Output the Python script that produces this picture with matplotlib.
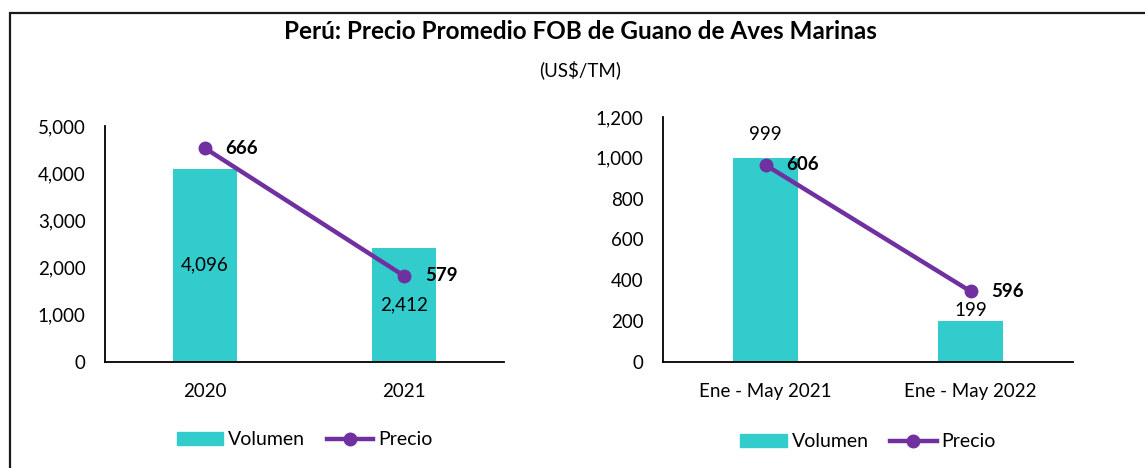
import matplotlib.pyplot as plt
from matplotlib.patches import Rectangle
from matplotlib.lines import Line2D
from matplotlib.patches import Patch

plt.rcParams['font.family'] = ['Lato', 'DejaVu Sans']

teal = '#33CCCC'
purple = '#7030A0'

# datos
cat_anual = ['2020', '2021']
vol_anual = [4096, 2412]
precio_anual = [666, 579]

cat_parcial = ['Ene - May 2021', 'Ene - May 2022']
vol_parcial = [999, 199]
precio_parcial = [606, 596]

fig = plt.figure(figsize=(11.45, 4.68), dpi=100)

fig.text(0.5065, 0.932, 'Perú: Precio Promedio FOB de Guano de Aves Marinas',
         ha='center', va='center', fontsize=17.5, fontweight='bold')
fig.text(0.5065, 0.85, '(US$/TM)', ha='center', va='center', fontsize=13.5)

# borde
fig.add_artist(Rectangle((10 / 1145, -0.1), 1.2, 1 - 12.5 / 468 + 0.1,
                         transform=fig.transFigure, fill=False,
                         edgecolor='#1a1a1a', linewidth=1.6))


def panel(rect, cats, vols, precios, ymax, step, y2lim, inside, offs=None):
    ax = fig.add_axes(rect)
    x = list(range(len(cats)))
    ax.bar(x, vols, width=0.32, color=teal, zorder=1)
    ax.set_xlim(-0.5, 1.5)
    ax.set_ylim(0, ymax)
    ax.set_yticks(range(0, ymax + 1, step))
    ax.set_yticklabels([f'{v:,}' for v in range(0, ymax + 1, step)])
    ax.set_xticks(x)
    ax.set_xticklabels(cats)
    ax.tick_params(axis='both', length=0, labelsize=13.5)
    ax.tick_params(axis='y', pad=14)
    ax.tick_params(axis='x', pad=15)
    for s in ['top', 'right']:
        ax.spines[s].set_visible(False)
    ax.spines['left'].set_linewidth(1.3)
    ax.spines['bottom'].set_linewidth(1.3)
    for i, (xi, v) in enumerate(zip(x, vols)):
        if inside:
            ax.text(xi, v / 2, f'{v:,}', ha='center', va='center', fontsize=13.5)
        else:
            ax.annotate(f'{v:,}', (xi, v), xytext=(0, offs[i]), textcoords='offset points',
                        ha='center', va='center', fontsize=13.5)

    ax2 = ax.twinx()
    ax2.plot(x, precios, color=purple, linewidth=3.2, marker='o', markersize=9, zorder=3)
    ax2.set_ylim(*y2lim)
    ax2.axis('off')
    for xi, p in zip(x, precios):
        ax2.annotate(f'{p:,}', (xi, p), xytext=(15, 0), textcoords='offset points',
                     ha='left', va='center', fontsize=13.5, fontweight='bold')

    handles = [Patch(color=teal),
               Line2D([0], [0], color=purple, linewidth=3.2, marker='o', markersize=9)]
    ax.legend(handles, ['Volumen', 'Precio'], loc='upper center',
              bbox_to_anchor=(0.5, -0.22), ncol=2, frameon=False, fontsize=14,
              handlelength=2.4, columnspacing=1.1, handletextpad=0.25)
    return ax


panel([105 / 1145, 1 - 362 / 468, 399 / 1145, 236 / 468],
      cat_anual, vol_anual, precio_anual, 5000, 1000, (520.5, 681), True)
panel([663 / 1145, 1 - 362 / 468, 410 / 1145, 245 / 468],
      cat_parcial, vol_parcial, precio_parcial, 1200, 200, (590.4, 609.8), False,
      offs=[17, 7.5])

fig.savefig('out.png', dpi=100)
